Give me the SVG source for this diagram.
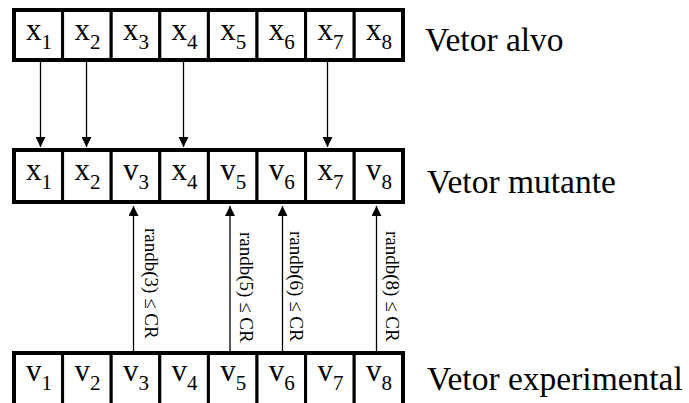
<svg xmlns="http://www.w3.org/2000/svg" width="689" height="403" viewBox="0 0 689 403">
  <defs>
    <style>
      .cell { fill: #fff; stroke: #000; stroke-width: 3; }
      .outer { fill: none; stroke: #000; stroke-width: 4; }
      .v { font-family: "Liberation Serif", "Times New Roman", serif; font-size: 31px; fill: #000; text-anchor: middle; }
      .sub { font-size: 21px; }
      .lbl { font-family: "Liberation Serif", "Times New Roman", serif; font-size: 33.5px; fill: #000; }
      .cond { font-family: "Liberation Serif", "Times New Roman", serif; font-size: 19px; fill: #000; }
      .conn { stroke: #000; stroke-width: 1.3; fill: none; }
    </style>
    <marker id="ah" viewBox="0 0 10 10" refX="10" refY="5" markerWidth="10" markerHeight="10" markerUnits="userSpaceOnUse" orient="auto">
      <path d="M0,0 L10,5 L0,10 z" fill="#000"/>
    </marker>
  </defs>
  <rect width="689" height="403" fill="#fff"/>

  <g id="connectors">
    <line class="conn" x1="40.5" y1="62" x2="40.5" y2="147" marker-end="url(#ah)"/>
    <line class="conn" x1="86.5" y1="62" x2="86.5" y2="147" marker-end="url(#ah)"/>
    <line class="conn" x1="183.5" y1="62" x2="183.5" y2="147" marker-end="url(#ah)"/>
    <line class="conn" x1="327.5" y1="62" x2="327.5" y2="147" marker-end="url(#ah)"/>
    <line class="conn" x1="133.5" y1="352" x2="133.5" y2="206" marker-end="url(#ah)"/>
    <line class="conn" x1="230" y1="352" x2="230" y2="206" marker-end="url(#ah)"/>
    <line class="conn" x1="282.5" y1="352" x2="282.5" y2="206" marker-end="url(#ah)"/>
    <line class="conn" x1="376.5" y1="352" x2="376.5" y2="206" marker-end="url(#ah)"/>
    <text class="cond" transform="translate(145,228) rotate(90)">randb(3) ≤ CR</text>
    <text class="cond" transform="translate(240,232) rotate(90)">randb(5) ≤ CR</text>
    <text class="cond" transform="translate(290,231) rotate(90)">randb(6) ≤ CR</text>
    <text class="cond" transform="translate(386,231) rotate(90)">randb(8) ≤ CR</text>
  </g>

  <g id="vetor-alvo">
    <rect class="cell" x="14" y="10" width="48.6" height="50"/>
    <rect class="cell" x="62.6" y="10" width="48.6" height="50"/>
    <rect class="cell" x="111.2" y="10" width="48.6" height="50"/>
    <rect class="cell" x="159.8" y="10" width="48.6" height="50"/>
    <rect class="cell" x="208.4" y="10" width="48.6" height="50"/>
    <rect class="cell" x="257" y="10" width="48.6" height="50"/>
    <rect class="cell" x="305.6" y="10" width="48.6" height="50"/>
    <rect class="cell" x="354.2" y="10" width="48.8" height="50"/>
    <rect class="outer" x="14" y="10" width="389" height="50"/>
    <text class="v" x="39" y="40">x<tspan class="sub" dy="9">1</tspan></text>
    <text class="v" x="87.5" y="40">x<tspan class="sub" dy="9">2</tspan></text>
    <text class="v" x="136" y="40">x<tspan class="sub" dy="9">3</tspan></text>
    <text class="v" x="184.6" y="40">x<tspan class="sub" dy="9">4</tspan></text>
    <text class="v" x="233.2" y="40">x<tspan class="sub" dy="9">5</tspan></text>
    <text class="v" x="281.8" y="40">x<tspan class="sub" dy="9">6</tspan></text>
    <text class="v" x="330.4" y="40">x<tspan class="sub" dy="9">7</tspan></text>
    <text class="v" x="379" y="40">x<tspan class="sub" dy="9">8</tspan></text>
    <text class="lbl" x="425" y="51">Vetor alvo</text>
  </g>

  <g id="vetor-mutante">
    <rect class="cell" x="14" y="150" width="48.6" height="52"/>
    <rect class="cell" x="62.6" y="150" width="48.6" height="52"/>
    <rect class="cell" x="111.2" y="150" width="48.6" height="52"/>
    <rect class="cell" x="159.8" y="150" width="48.6" height="52"/>
    <rect class="cell" x="208.4" y="150" width="48.6" height="52"/>
    <rect class="cell" x="257" y="150" width="48.6" height="52"/>
    <rect class="cell" x="305.6" y="150" width="48.6" height="52"/>
    <rect class="cell" x="354.2" y="150" width="48.8" height="52"/>
    <rect class="outer" x="14" y="150" width="389" height="52"/>
    <text class="v" x="39" y="180">x<tspan class="sub" dy="9">1</tspan></text>
    <text class="v" x="87.5" y="180">x<tspan class="sub" dy="9">2</tspan></text>
    <text class="v" x="136" y="180">v<tspan class="sub" dy="9">3</tspan></text>
    <text class="v" x="184.6" y="180">x<tspan class="sub" dy="9">4</tspan></text>
    <text class="v" x="233.2" y="180">v<tspan class="sub" dy="9">5</tspan></text>
    <text class="v" x="281.8" y="180">v<tspan class="sub" dy="9">6</tspan></text>
    <text class="v" x="330.4" y="180">x<tspan class="sub" dy="9">7</tspan></text>
    <text class="v" x="379" y="180">v<tspan class="sub" dy="9">8</tspan></text>
    <text class="lbl" x="427" y="193">Vetor mutante</text>
  </g>

  <g id="vetor-experimental">
    <rect class="cell" x="14" y="353" width="48.6" height="52"/>
    <rect class="cell" x="62.6" y="353" width="48.6" height="52"/>
    <rect class="cell" x="111.2" y="353" width="48.6" height="52"/>
    <rect class="cell" x="159.8" y="353" width="48.6" height="52"/>
    <rect class="cell" x="208.4" y="353" width="48.6" height="52"/>
    <rect class="cell" x="257" y="353" width="48.6" height="52"/>
    <rect class="cell" x="305.6" y="353" width="48.6" height="52"/>
    <rect class="cell" x="354.2" y="353" width="48.8" height="52"/>
    <rect class="outer" x="14" y="353" width="389" height="52"/>
    <text class="v" x="39" y="381">v<tspan class="sub" dy="9">1</tspan></text>
    <text class="v" x="87.5" y="381">v<tspan class="sub" dy="9">2</tspan></text>
    <text class="v" x="136" y="381">v<tspan class="sub" dy="9">3</tspan></text>
    <text class="v" x="184.6" y="381">v<tspan class="sub" dy="9">4</tspan></text>
    <text class="v" x="233.2" y="381">v<tspan class="sub" dy="9">5</tspan></text>
    <text class="v" x="281.8" y="381">v<tspan class="sub" dy="9">6</tspan></text>
    <text class="v" x="330.4" y="381">v<tspan class="sub" dy="9">7</tspan></text>
    <text class="v" x="379" y="381">v<tspan class="sub" dy="9">8</tspan></text>
    <text class="lbl" x="427" y="390">Vetor experimental</text>
  </g>
</svg>
